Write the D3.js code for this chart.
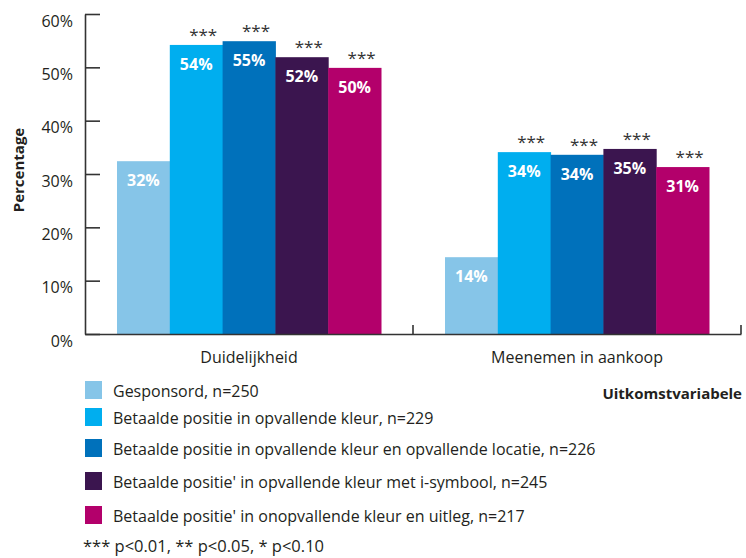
<!DOCTYPE html>
<html>
<head>
<meta charset="utf-8">
<script src="https://cdn.jsdelivr.net/npm/d3@7"></script>
<style>
  html, body { margin: 0; padding: 0; background: #fff; }
  svg { display: block; font-family: "Open Sans", "Noto Sans", sans-serif; }
</style>
</head>
<body>
<svg id="chart" width="746" height="558"></svg>
<script>
// ---- data ----
const categories = ["Duidelijkheid", "Meenemen in aankoop"];
const seriesNames = [
  "Gesponsord, n=250",
  "Betaalde positie in opvallende kleur, n=229",
  "Betaalde positie in opvallende kleur en opvallende locatie, n=226",
  "Betaalde positie' in opvallende kleur met i-symbool, n=245",
  "Betaalde positie' in onopvallende kleur en uitleg, n=217"
];
const duidelijkheid = [32.4, 54.2, 54.9, 51.9, 49.9];
const meenemen = [14.4, 34.1, 33.6, 34.7, 31.3];
const duidelijkheidSig = ["", "***", "***", "***", "***"];
const meenemenSig = ["", "***", "***", "***", "***"];
const seriesColors = ["#86c5e8", "#00aeef", "#0071bb", "#3b154f", "#b3006b"];
const yTicks = [0, 10, 20, 30, 40, 50, 60];
const yTitle = "Percentage";
const xTitle = "Uitkomstvariabele";
const footnote = "*** p<0.01, ** p<0.05, * p<0.10";

const values = [duidelijkheid, meenemen];
const sigs = [duidelijkheidSig, meenemenSig];

// ---- layout ----
const svg = d3.select("#chart");
const plotLeft = 85, plotRight = 741, plotTop = 14, plotBottom = 334;
const textColor = "#231f20";

const y = d3.scaleLinear().domain([0, 60]).range([plotBottom, plotTop]);
const x0 = d3.scaleBand().domain(categories).range([plotLeft, plotRight]).padding(0);
const bw = x0.bandwidth();
const x1 = d3.scaleBand().domain(d3.range(seriesNames.length)).range([32, bw - 32]).padding(0);

// y axis
const yAxis = d3.axisLeft(y).tickValues(yTicks).tickFormat(d => d + "%")
  .tickSizeInner(-15).tickSizeOuter(0).tickPadding(12);
const gy = svg.append("g").attr("transform", `translate(${plotLeft},0)`).call(yAxis);
gy.select(".domain").attr("stroke", "#333").attr("stroke-width", 1.6);
gy.selectAll(".tick line").attr("stroke", "#333").attr("stroke-width", 1.6);
gy.selectAll(".tick text").attr("dy", 12).attr("font-size", 16)
  .attr("fill", textColor).attr("font-family", "Open Sans");

// bars
const groups = svg.append("g").selectAll("g").data(categories).join("g")
  .attr("transform", d => `translate(${x0(d)},0)`);

groups.each(function(cat, ci) {
  const g = d3.select(this);
  const vals = values[ci];
  g.selectAll("rect").data(vals).join("rect")
    .attr("x", (d, i) => x1(i))
    .attr("y", d => y(d))
    .attr("width", x1.bandwidth() + 0.5)
    .attr("height", d => y(0) - y(d))
    .attr("fill", (d, i) => seriesColors[i]);
  g.selectAll("text.val").data(vals).join("text").attr("class", "val")
    .attr("x", (d, i) => x1(i) + x1.bandwidth() / 2)
    .attr("y", d => y(d) + 25)
    .attr("text-anchor", "middle")
    .attr("font-size", 16).attr("font-weight", "bold").attr("fill", "#fff")
    .text(d => Math.round(d) + "%");
  g.selectAll("text.sig").data(vals).join("text").attr("class", "sig")
    .attr("x", (d, i) => x1(i) + x1.bandwidth() / 2 + 7)
    .attr("y", d => y(d) - 4)
    .attr("text-anchor", "middle")
    .attr("font-size", 17).attr("fill", "#333")
    .text((d, i) => sigs[ci][i]);
});

// x axis
const xAxis = d3.axisBottom(x0).tickSize(0).tickPadding(29);
const gx = svg.append("g").attr("transform", `translate(0,${plotBottom})`).call(xAxis);
gx.select(".domain").attr("stroke", "#333").attr("stroke-width", 1.6);
gx.selectAll(".tick text").attr("font-size", 16).attr("fill", textColor)
  .attr("font-family", "Open Sans").attr("dy", 0);
gx.selectAll("line.sep").data(categories).join("line").attr("class", "sep")
  .attr("x1", d => x0(d) + bw).attr("x2", d => x0(d) + bw)
  .attr("y1", 0).attr("y2", -9)
  .attr("stroke", "#333").attr("stroke-width", 1.6);

// axis titles
svg.append("text")
  .attr("transform", `translate(24,170) rotate(-90)`)
  .attr("text-anchor", "middle").attr("font-size", 15).attr("font-weight", "bold")
  .attr("fill", textColor).text(yTitle);
svg.append("text")
  .attr("x", 742).attr("y", 399).attr("text-anchor", "end")
  .attr("font-size", 15).attr("font-weight", "bold").attr("fill", textColor).text(xTitle);

// legend
const legendTops = [381, 408, 439, 472, 506];
const lg = svg.append("g").selectAll("g").data(seriesNames).join("g")
  .attr("transform", (d, i) => `translate(85,${legendTops[i]})`);
lg.append("rect").attr("width", 17).attr("height", 18).attr("fill", (d, i) => seriesColors[i]);
lg.append("text").attr("x", 28).attr("y", 16).attr("font-size", 16)
  .attr("fill", textColor).text(d => d);

svg.append("text").attr("x", 83).attr("y", 552).attr("font-size", 16.5)
  .attr("fill", textColor).text(footnote);
</script>
</body>
</html>
